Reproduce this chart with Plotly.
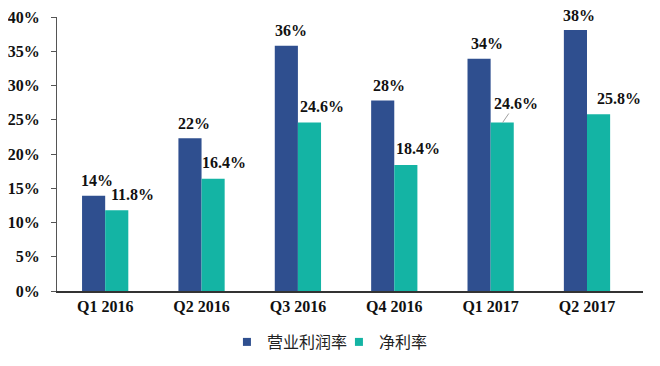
import plotly.graph_objects as go

categories = ["Q1 2016", "Q2 2016", "Q3 2016", "Q4 2016", "Q1 2017", "Q2 2017"]
op_margin = [13.9, 22.3, 35.8, 27.8, 33.9, 38.1]
net_margin = [11.8, 16.4, 24.6, 18.4, 24.6, 25.8]
op_labels = ["14%", "22%", "36%", "28%", "34%", "38%"]
net_labels = ["11.8%", "16.4%", "24.6%", "18.4%", "24.6%", "25.8%"]
yticks = [0, 5, 10, 15, 20, 25, 30, 35, 40]
ytick_text = ["0%", "5%", "10%", "15%", "20%", "25%", "30%", "35%", "40%"]
series_names = ["营业利润率", "净利率"]

BLUE = "#2F4F8F"
TEAL = "#14B4A4"
SERIF = "Liberation Serif"

# label pixel shifts (style only)
op_xshift = [4, 4, 5, 7, 8, 4]
net_xshift = [15, 10, 12, 12, 0, 20]

fig = go.Figure()
fig.add_trace(go.Bar(x=categories, y=op_margin, name=series_names[0],
                     marker=dict(color=BLUE, line=dict(width=0)),
                     offsetgroup="a", showlegend=False, hoverinfo="skip"))
fig.add_trace(go.Bar(x=categories, y=net_margin, name=series_names[1],
                     marker=dict(color=TEAL, line=dict(width=0)),
                     offsetgroup="b", showlegend=False, hoverinfo="skip"))
# legend proxies with small square markers
for nm, col in zip(series_names, [BLUE, TEAL]):
    fig.add_trace(go.Scatter(x=[None], y=[None], mode="markers", name=nm,
                             marker=dict(symbol="square", size=8, color=col)))

lab_font = dict(family=SERIF, size=16, color="#111111", weight="bold")
anns = []
for i, c in enumerate(categories):
    anns.append(dict(x=c, y=op_margin[i], text=op_labels[i], showarrow=False,
                     xref="x", yref="y", xshift=-12 + op_xshift[i], yshift=15,
                     font=lab_font))
    if i == 4:
        anns.append(dict(x=c, y=net_margin[i], text=net_labels[i], showarrow=True,
                         arrowhead=0, arrowwidth=1, arrowcolor="#A0A0A0",
                         ax=13, ay=-19, xref="x", yref="y", xshift=12,
                         font=lab_font))
    else:
        anns.append(dict(x=c, y=net_margin[i], text=net_labels[i], showarrow=False,
                         xref="x", yref="y", xshift=12 + net_xshift[i], yshift=16,
                         font=lab_font))

# page body has an 8px default margin, so the figure is sized to fit inside
W, H = 644, 350
fig.update_layout(
    width=W, height=H,
    margin=dict(l=49, r=9, t=9, b=67, autoexpand=False),
    paper_bgcolor="white", plot_bgcolor="white",
    barmode="group", bargap=0.52, bargroupgap=0,
    annotations=anns,
    showlegend=True,
    legend=dict(orientation="h", x=0.29, xanchor="left",
                yref="container", y=16 / H, yanchor="middle",
                entrywidth=67, entrywidthmode="pixels",
                font=dict(family="Noto Sans CJK SC", size=16, color="#222222"),
                itemwidth=30, tracegroupgap=0, bgcolor="rgba(0,0,0,0)"),
    xaxis=dict(showline=True, linecolor="#333333", linewidth=1.5, ticks="",
               showgrid=False, automargin=False,
               tickfont=dict(family=SERIF, size=16, color="#111111", weight="bold"),
               fixedrange=True),
    yaxis=dict(range=[0, 40], tickvals=yticks, ticktext=ytick_text,
               showline=True, linecolor="#555555", linewidth=1, ticks="outside",
               ticklen=5, tickcolor="#555555", showgrid=False, zeroline=False,
               automargin=False, ticklabelstandoff=8,
               tickfont=dict(family=SERIF, size=16, color="#111111", weight="bold"),
               fixedrange=True),
)

fig.write_html("out.html")
